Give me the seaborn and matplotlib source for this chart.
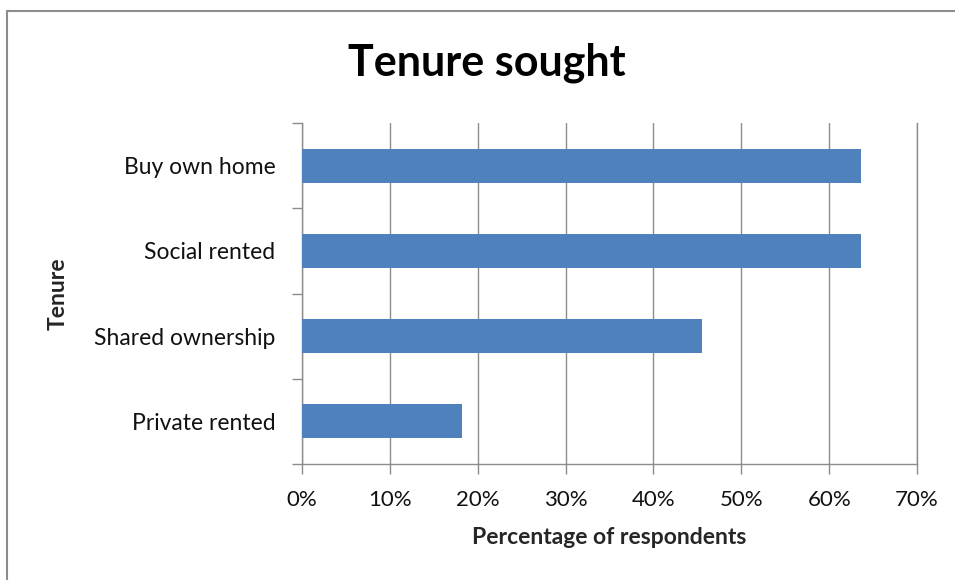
import matplotlib
matplotlib.use("Agg")
import matplotlib.pyplot as plt
import matplotlib.ticker as mticker
from matplotlib.lines import Line2D
import seaborn as sns
import pandas as pd

# Chart data (percent of respondents)
tenures = ["Buy own home", "Social rented", "Shared ownership", "Private rented"]
percentages = [63.6, 63.6, 45.5, 18.2]
x_ticks = [0, 10, 20, 30, 40, 50, 60, 70]

sns.set_theme(style="white")
plt.rcParams["font.family"] = ["Lato", "DejaVu Sans"]

df = pd.DataFrame({"tenure": tenures, "pct": percentages})

fig = plt.figure(figsize=(9.55, 5.8), dpi=100)
ax = fig.add_axes([302 / 955, 1 - 464 / 580, 615 / 955, 341 / 580])

grid_col = "#8c8c8c"
sns.barplot(data=df, y="tenure", x="pct", orient="h", color="#4F81BD",
            width=0.4, saturation=1, linewidth=0, ax=ax, zorder=3)

ax.set_xlim(0, 70)
ax.set_ylim(3.5, -0.5)
ax.set_xticks(x_ticks)
ax.xaxis.set_major_formatter(mticker.FuncFormatter(lambda v, p: f"{int(v)}%"))
ax.grid(axis="x", color=grid_col, linewidth=1, zorder=0)
ax.grid(axis="y", visible=False)

# category-boundary ticks on the y axis
ax.set_yticks([i for i in range(len(tenures))])
ax.set_yticklabels(tenures)
ax.set_yticks([i - 0.5 for i in range(len(tenures) + 1)], minor=True)
ax.tick_params(axis="y", which="major", length=0, pad=19, labelsize=16.5, colors="#111111")
ax.tick_params(axis="y", which="minor", length=7, width=1, color=grid_col, direction="out", left=True)
ax.tick_params(axis="x", which="major", length=7, width=1, color=grid_col, direction="out",
               bottom=True, pad=12, labelsize=16, labelcolor="#111111")

ax.spines["top"].set_visible(False)
for side in ["left", "bottom", "right"]:
    ax.spines[side].set_color(grid_col)
    ax.spines[side].set_linewidth(1)

ax.set_xlabel("Percentage of respondents", fontsize=16.5, fontweight="bold", labelpad=12)
ax.set_ylabel("Tenure", fontsize=16.5, fontweight="bold")
ax.yaxis.set_label_coords(-0.38, 0.5)

fig.text(487 / 955, 1 - 63 / 580, "Tenure sought", ha="center", va="center",
         fontsize=31, fontweight="bold", color="#000000")

# outer chart border (only top and left are inside the picture)
bx, by = 7 / 955, 1 - 11 / 580
fig.lines.append(Line2D([bx, 1.0], [by, by], transform=fig.transFigure,
                        color="#8c8c8c", linewidth=1.5))
fig.lines.append(Line2D([bx, bx], [0.0, by], transform=fig.transFigure,
                        color="#8c8c8c", linewidth=1.5))

fig.savefig("out.png", dpi=100)
